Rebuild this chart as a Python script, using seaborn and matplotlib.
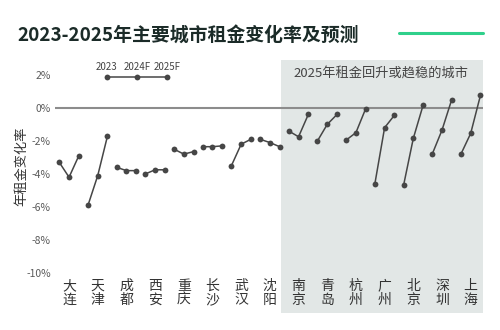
import numpy as np
import pandas as pd
import matplotlib
matplotlib.use("Agg")
import matplotlib.pyplot as plt
import matplotlib.transforms as mtransforms
from matplotlib.patches import Rectangle
import seaborn as sns

# ---- data ----
cities = ['大连', '天津', '成都', '西安', '重庆', '长沙', '武汉', '沈阳',
          '南京', '青岛', '杭州', '广州', '北京', '深圳', '上海']
years = ['2023', '2024F', '2025F']
v2023 = [-3.3, -5.9, -3.6, -4.0, -2.5, -2.35, -3.5, -1.9,
         -1.4, -2.0, -1.95, -4.6, -4.7, -2.8, -2.8]
v2024 = [-4.2, -4.1, -3.8, -3.75, -2.8, -2.35, -2.2, -2.1,
         -1.75, -1.0, -1.5, -1.2, -1.85, -1.35, -1.55]
v2025 = [-2.9, -1.7, -3.8, -3.75, -2.65, -2.3, -1.9, -2.35,
         -0.4, -0.4, -0.05, -0.45, 0.15, 0.5, 0.75]
yticks = [-10, -8, -6, -4, -2, 0, 2]
ytick_labels = ['-10%', '-8%', '-6%', '-4%', '-2%', '0%', '2%']
title = '2023-2025年主要城市租金变化率及预测'
ylabel = '年租金变化率'
shade_label = '2025年租金回升或趋稳的城市'
n_recover = 7  # last seven cities are in the shaded group

# ---- style ----
sns.set_style('white')
plt.rcParams['font.family'] = ['Noto Sans CJK SC', 'DejaVu Sans']
dark = '#464646'
offsets = [-0.34, 0.0, 0.34]

rows = []
for i, c in enumerate(cities):
    for j, vals in enumerate([v2023, v2024, v2025]):
        rows.append({'city': c, 'year': years[j], 'x': i + offsets[j], 'value': vals[i]})
df = pd.DataFrame(rows)

fig = plt.figure(figsize=(5, 3.3), dpi=100)
ax = fig.add_axes([0.11, 0.1627, 0.856, 0.6555])

ax.set_xlim(-0.49, 14.43)
ax.set_ylim(-10.2, 2.9)

# shaded region (extends below axis over the tick labels)
trans = mtransforms.blended_transform_factory(ax.transData, ax.transAxes)
x0 = len(cities) - n_recover - 0.61
ax.add_patch(Rectangle((x0, -0.17), 14.43 - x0, 1.17, transform=trans,
                       facecolor='#e2e7e6', edgecolor='none', clip_on=False, zorder=0))

ax.axhline(0, color='#8c8c8c', lw=1.5, zorder=1)

sns.lineplot(data=df, x='x', y='value', units='city', estimator=None,
             color=dark, marker='o', markersize=4.2, markeredgewidth=0,
             linewidth=1.1, ax=ax, legend=False, zorder=3)

ax.set_xticks(range(len(cities)))
ax.set_xticklabels(['\n'.join(c) for c in cities], fontsize=10, color='#333333',
                   linespacing=1.0)
ax.set_yticks(yticks)
ax.set_yticklabels(ytick_labels, fontsize=7.5, color='#5a5a5a')
ax.tick_params(axis='both', length=0)
ax.tick_params(axis='x', pad=2)
ax.tick_params(axis='y', pad=3)
ax.set_xlabel('')
ax.set_ylabel('')
for s in ax.spines.values():
    s.set_visible(False)
ax.grid(False)

# mini legend
lx = [0.1215, 0.1916, 0.2617]
ax.plot(lx, [0.921] * 3, transform=ax.transAxes, color=dark, marker='o',
        markersize=4.2, markeredgewidth=0, lw=1.1, clip_on=False)
for x, lab in zip(lx, years):
    ax.text(x, 0.968, lab, transform=ax.transAxes, ha='center', va='center',
            fontsize=7, color='#444444')

ax.text(0.762, 0.935, shade_label, transform=ax.transAxes, ha='center', va='center',
        fontsize=9.5, color='#444444')

fig.text(0.044, 1 - 166 / 330, ylabel, rotation=90, ha='center', va='center',
         fontsize=9.5, color='#333333')
fig.text(0.034, 1 - 35.5 / 330, title, ha='left', va='center', fontsize=13.6,
         fontweight='bold', color='#1b2b28')
fig.add_artist(plt.Line2D([0.798, 0.966], [1 - 33 / 330] * 2, color='#2fd08b', lw=2.2,
                          transform=fig.transFigure))

fig.savefig('out.png', dpi=100, facecolor='white')
